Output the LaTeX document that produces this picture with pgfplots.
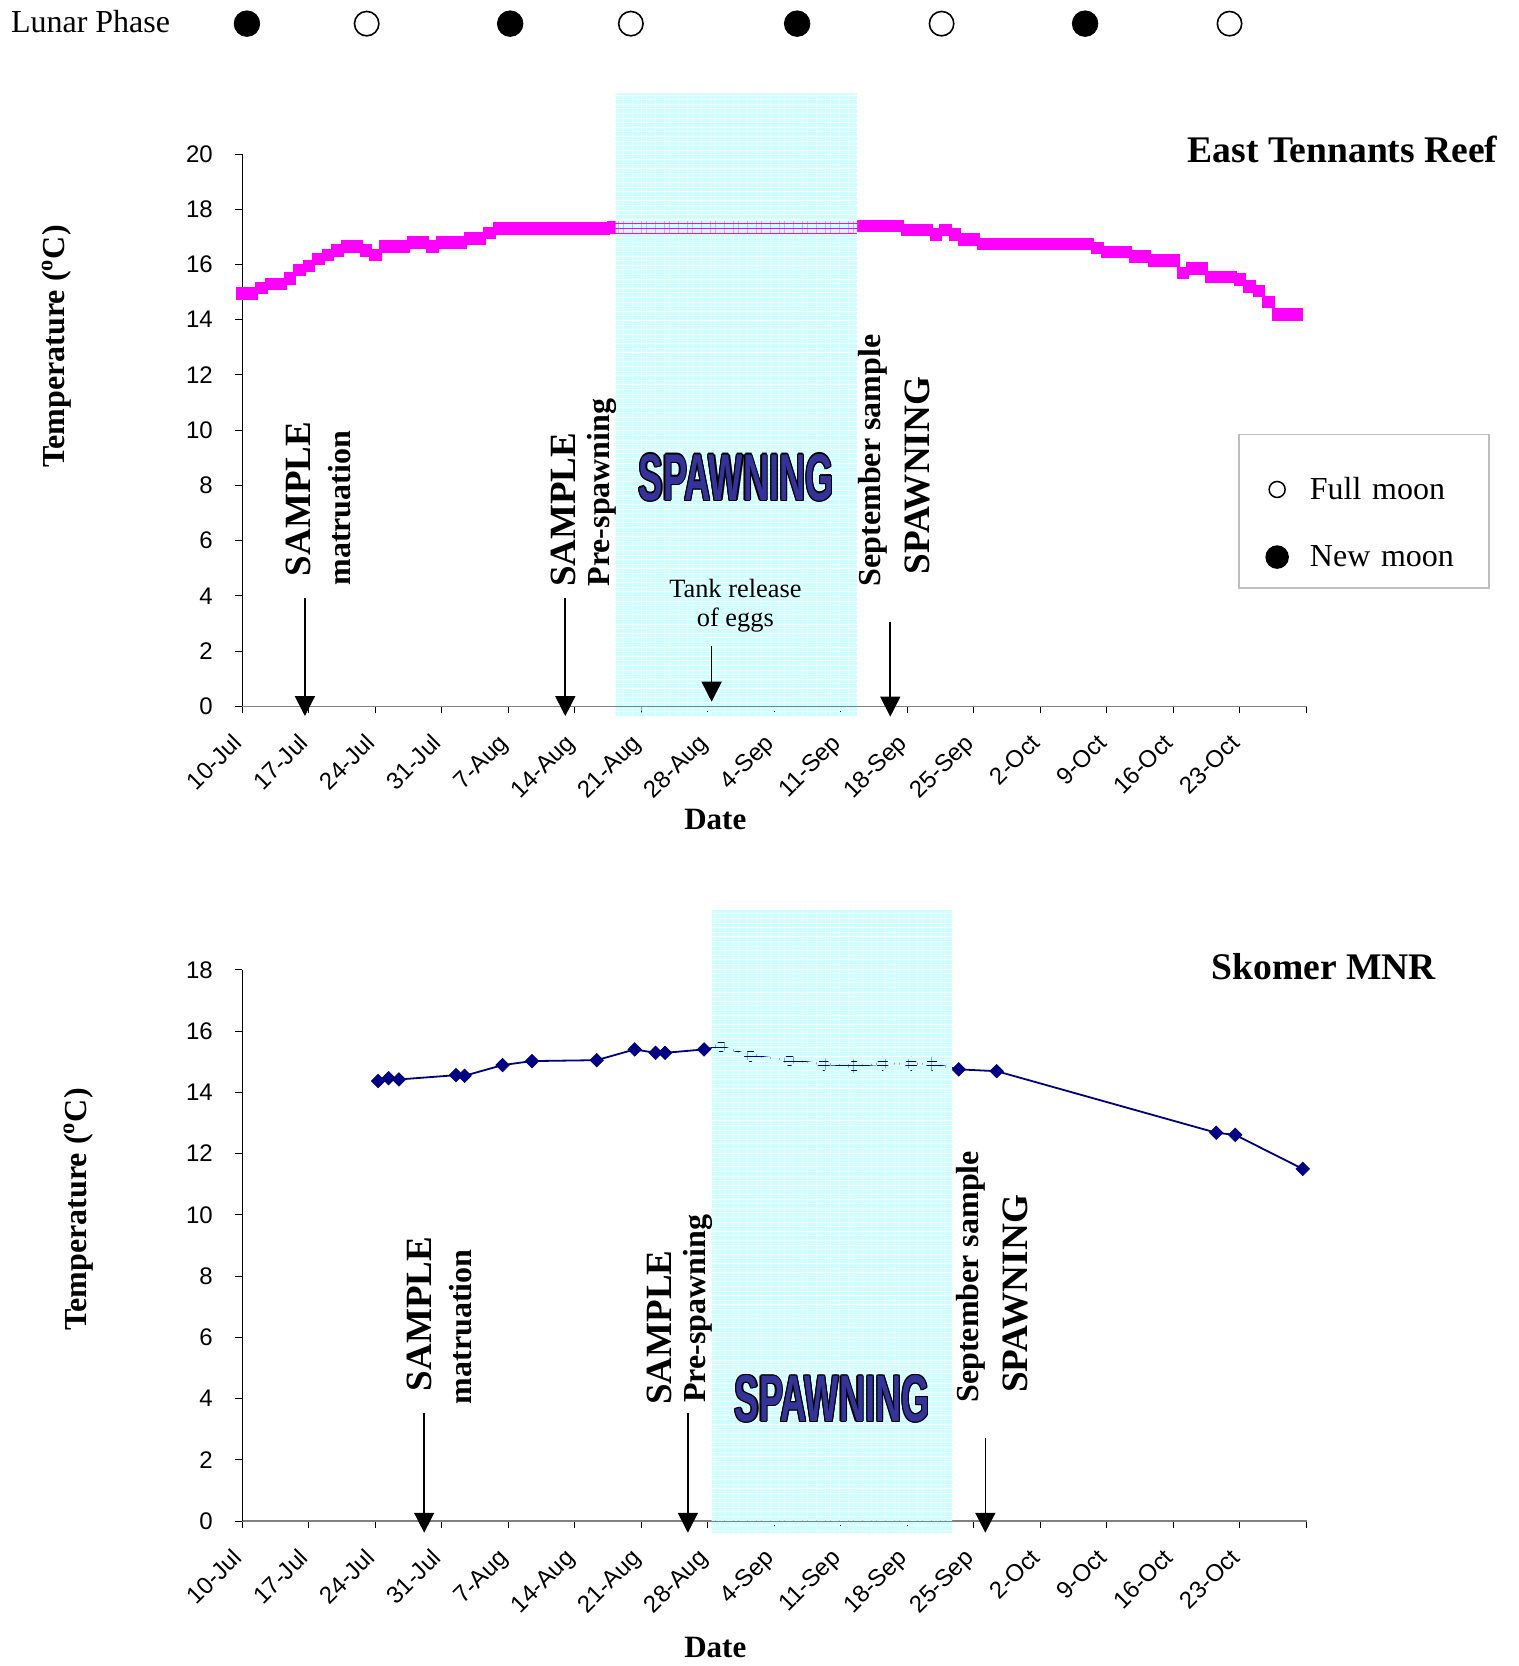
\documentclass[border=0pt]{standalone}
\usepackage{fontspec}
\setmainfont{Liberation Serif}
\newfontfamily\arial{Liberation Sans}
\usepackage{graphicx}
\usepackage{pgfplots}
\usepackage{pgfplotstable}
\pgfplotsset{compat=1.18}
\usetikzlibrary{arrows.meta,patterns.meta}

\definecolor{bandcyan}{RGB}{204,255,255}
\definecolor{spawnblue}{RGB}{51,51,153}
\definecolor{navyline}{RGB}{0,0,128}
\definecolor{reefmagenta}{RGB}{255,0,255}

\newcommand{\fs}[1]{\fontsize{#1}{#1}\selectfont}

% East Tennants Reef, daily temperature (day 0 = 10 July)
\pgfplotstableread{
day temp
0 14.95
1 14.95
2 15.15
3 15.30
4 15.30
5 15.50
6 15.80
7 15.95
8 16.20
9 16.35
10 16.50
11 16.65
12 16.65
13 16.50
14 16.35
15 16.65
16 16.65
17 16.65
18 16.80
19 16.80
20 16.65
21 16.80
22 16.80
23 16.80
24 16.95
25 16.95
26 17.15
27 17.30
28 17.30
29 17.30
30 17.30
31 17.30
32 17.30
33 17.30
34 17.30
35 17.30
36 17.30
37 17.30
38 17.30
39 17.35
40 17.35
41 17.35
42 17.35
43 17.35
44 17.35
45 17.35
46 17.35
47 17.35
48 17.35
49 17.35
50 17.35
51 17.35
52 17.35
53 17.35
54 17.35
55 17.35
56 17.35
57 17.35
58 17.35
59 17.35
60 17.35
61 17.35
62 17.35
63 17.35
64 17.35
65 17.40
66 17.40
67 17.40
68 17.40
69 17.40
70 17.25
71 17.25
72 17.25
73 17.10
74 17.25
75 17.10
76 16.90
77 16.90
78 16.75
79 16.75
80 16.75
81 16.75
82 16.75
83 16.75
84 16.75
85 16.75
86 16.75
87 16.75
88 16.75
89 16.75
90 16.60
91 16.45
92 16.45
93 16.45
94 16.30
95 16.30
96 16.15
97 16.15
98 16.15
99 15.70
100 15.85
101 15.85
102 15.55
103 15.55
104 15.55
105 15.45
106 15.20
107 15.05
108 14.65
109 14.20
110 14.20
111 14.20
}\eastreef

% Skomer MNR, spot temperatures
\pgfplotstableread{
day temp
14.3 14.37
15.4 14.46
16.5 14.42
22.5 14.56
23.4 14.54
27.4 14.89
30.5 15.02
37.3 15.05
41.3 15.40
43.5 15.29
44.5 15.29
48.6 15.40
50.4 15.50
53.5 15.20
57.6 15.05
61.2 14.92
64.4 14.86
67.4 14.93
70.4 14.93
72.6 14.93
75.4 14.75
79.4 14.69
102.5 12.68
104.5 12.61
111.6 11.50
}\skomer

% Outlined, condensed "SPAWNING" banner
\newcommand{\spawntext}{\scalebox{0.55}[1]{\arial\bfseries\fs{33}SPAWNING}}
\newcommand{\spawnbanner}[1]{%
  \node[inner sep=0pt, text=black, xshift=0.6pt] at (#1) {\spawntext};
  \node[inner sep=0pt, text=black, xshift=-0.6pt] at (#1) {\spawntext};
  \node[inner sep=0pt, text=black, yshift=0.6pt] at (#1) {\spawntext};
  \node[inner sep=0pt, text=black, yshift=-0.6pt] at (#1) {\spawntext};
  \node[inner sep=0pt, text=black, xshift=0.45pt, yshift=0.45pt] at (#1) {\spawntext};
  \node[inner sep=0pt, text=black, xshift=-0.45pt, yshift=0.45pt] at (#1) {\spawntext};
  \node[inner sep=0pt, text=black, xshift=0.45pt, yshift=-0.45pt] at (#1) {\spawntext};
  \node[inner sep=0pt, text=black, xshift=-0.45pt, yshift=-0.45pt] at (#1) {\spawntext};
  \node[inner sep=0pt, text=spawnblue] at (#1) {\spawntext};}

\tikzset{
  rot/.style={rotate=90, anchor=base west, inner sep=0pt},
  pointer/.style={-{Triangle[width=10pt,length=10pt]}, line width=0.8pt, black},
  band/.style={draw=none, pattern={Lines[angle=0,distance=2.3pt,line width=1.8pt]}, pattern color=bandcyan},
}

\pgfplotsset{
  reefaxis/.style={
    scale only axis, width=532.15pt,
    xmin=0, xmax=112, ymin=0,
    enlargelimits=false, clip=false, clip marker paths=true,
    axis x line=bottom, axis y line=left,
    axis line style={-},
    x axis line style={-, draw=black!50, line width=0.9pt},
    y axis line style={-, draw=black, line width=0.5pt},
    tick align=outside, major tick length=3.5pt,
    tick style={black, line width=0.5pt},
    xtick={0,7,...,112},
    xticklabels={10-Jul,17-Jul,24-Jul,31-Jul,7-Aug,14-Aug,21-Aug,28-Aug,4-Sep,11-Sep,18-Sep,25-Sep,2-Oct,9-Oct,16-Oct,23-Oct,{}},
    xticklabel style={font=\arial\fs{12}, inner sep=0pt, text height=8.6pt, text depth=0pt,
      anchor=east, xshift=-2.5pt, yshift=-12.5pt, rotate=45},
    yticklabel style={font=\arial\fs{12}, inner sep=0pt, anchor=east, xshift=-11pt},
    /pgf/number format/assume math mode=true,
    xlabel={Date},
    ylabel={Temperature (\textsuperscript{o}C)},
    xlabel style={font=\bfseries\fs{15.5}, anchor=base, inner sep=0pt},
    ylabel style={font=\bfseries\fs{16}, anchor=base, inner sep=0pt},
  },
}

\begin{document}
\begin{tikzpicture}
\useasboundingbox (0pt,0pt) rectangle (759.5pt,-833pt);

\node[anchor=base west, inner sep=0pt, font=\fs{16}] at (5.3pt,-16.15pt) {Lunar Phase};

% ---------------- East Tennants Reef ----------------
\begin{axis}[reefaxis,
  at={(121.1pt,-353.2pt)}, anchor=south west, height=276.2pt,
  ymax=20, ytick={0,2,...,20},
  xlabel style={at={(axis description cs:0.4445,-0.2225)}},
  ylabel style={at={(axis description cs:-0.1665,0.6515)}},
  legend style={at={(0.936,0.494)}, anchor=north west, draw=black!25, line width=0.75pt,
    fill=white, font=\fs{16}, inner xsep=13pt, inner ysep=9.4pt,
    row sep=9.3pt, column sep=10.4pt, nodes={inner sep=0pt, text width=76.5pt}},
  legend cell align=left,
  legend image code/.code={\draw[#1] plot coordinates {(0pt,0pt)};
    \path[draw=none, fill=none] (-6pt,-6pt) rectangle (6pt,18.2pt);},
]
\addplot[forget plot, color=reefmagenta, line width=1pt, mark=square*, mark size=2.9pt,
  mark options={line width=0.4pt}] table[x=day, y=temp] {\eastreef};
% spawning period
\addplot[forget plot, band] coordinates {(39.3,-0.38) (64.7,-0.38) (64.7,22.2) (39.3,22.2)} -- cycle;
% lunar phases
\addplot[forget plot, only marks, mark=*, mark size=6.4pt, black]
  coordinates {(0.5,24.72) (28.2,24.72) (58.4,24.72) (88.7,24.72)};
\addplot[forget plot, only marks, mark=o, mark size=6.1pt, black, line width=0.8pt]
  coordinates {(13.1,24.72) (40.9,24.72) (73.6,24.72) (103.9,24.72)};
\addlegendimage{only marks, mark=o, mark size=4pt, black, line width=0.75pt}
\addlegendentry{Full moon}
\addlegendimage{only marks, mark=*, mark size=5.5pt, black}
\addlegendentry{New moon}

\node[anchor=base west, inner sep=0pt, font=\bfseries\fs{18.8}] at (axis cs:99.45,19.68) {East Tennants Reef};

\draw[pointer] (axis cs:6.6,3.93) -- (axis cs:6.6,-0.35);
\node[rot, font=\bfseries\fs{18.5}] at (axis cs:7.23,4.70) {SAMPLE};
\node[rot, font=\bfseries\fs{16}] at (axis cs:11.4,4.36) {matruation};

\draw[pointer] (axis cs:34.0,3.93) -- (axis cs:34.0,-0.35);
\node[rot, font=\bfseries\fs{18.5}] at (axis cs:35.07,4.31) {SAMPLE};
\node[rot, font=\bfseries\fs{16}] at (axis cs:38.6,4.33) {Pre-spawning};

\spawnbanner{axis cs:52.0,8.29}
\node[anchor=base, inner sep=0pt, font=\fs{13.2}] at (axis cs:51.9,3.93) {Tank release};
\node[anchor=base, inner sep=0pt, font=\fs{13.2}] at (axis cs:51.9,2.88) {of eggs};
\draw[pointer] (axis cs:49.4,2.19) -- (axis cs:49.4,0.17);

\draw[pointer] (axis cs:68.2,3.07) -- (axis cs:68.2,-0.37);
\node[rot, font=\bfseries\fs{16}] at (axis cs:67.2,4.34) {September sample};
\node[rot, font=\bfseries\fs{18.6}] at (axis cs:72.3,4.76) {SPAWNING};
\end{axis}

% ---------------- Skomer MNR ----------------
\begin{axis}[reefaxis,
  at={(121.1pt,-760.55pt)}, anchor=south west, height=275.65pt,
  ymax=18, ytick={0,2,...,18},
  xlabel style={at={(axis description cs:0.4445,-0.247)}},
  ylabel style={at={(axis description cs:-0.1462,0.5652)}},
]
\addplot[forget plot, color=navyline, line width=0.9pt, mark=square*, mark size=2.4pt,
  mark options={rotate=45, line width=0.3pt}] table[x=day, y=temp] {\skomer};
% spawning period
\addplot[forget plot, band] coordinates {(49.4,-0.38) (74.7,-0.38) (74.7,19.95) (49.4,19.95)} -- cycle;

\node[anchor=base west, inner sep=0pt, font=\bfseries\fs{18.8}] at (axis cs:101.97,17.69) {Skomer MNR};

\draw[pointer] (axis cs:19.15,3.54) -- (axis cs:19.15,-0.38);
\node[rot, font=\bfseries\fs{18.5}] at (axis cs:19.9,4.23) {SAMPLE};
\node[rot, font=\bfseries\fs{16}] at (axis cs:24.1,3.81) {matruation};

\draw[pointer] (axis cs:46.9,3.54) -- (axis cs:46.9,-0.38);
\node[rot, font=\bfseries\fs{18.5}] at (axis cs:45.2,3.79) {SAMPLE};
\node[rot, font=\bfseries\fs{16}] at (axis cs:48.8,3.85) {Pre-spawning};

\spawnbanner{axis cs:62.1,4.0}

\draw[pointer] (axis cs:78.2,2.72) -- (axis cs:78.2,-0.38);
\node[rot, font=\bfseries\fs{16}] at (axis cs:77.5,3.86) {September sample};
\node[rot, font=\bfseries\fs{18.6}] at (axis cs:82.6,4.18) {SPAWNING};
\end{axis}
\end{tikzpicture}
\end{document}
